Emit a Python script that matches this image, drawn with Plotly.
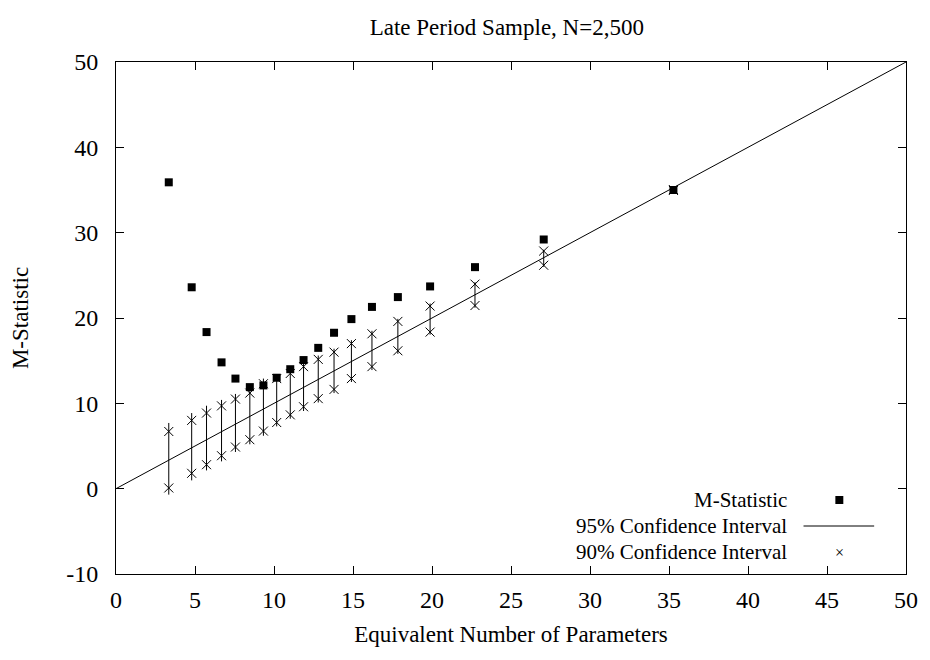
import plotly.graph_objects as go

# Data
enp = [3.34, 4.79, 5.73, 6.68, 7.56, 8.47, 9.33, 10.17, 11.03, 11.87, 12.8, 13.8,
       14.9, 16.2, 17.84, 19.88, 22.72, 27.07, 35.28]
m_stat = [35.9, 23.6, 18.35, 14.8, 12.9, 11.9, 12.1, 13.0, 14.0, 15.07, 16.5, 18.27,
          19.87, 21.3, 22.45, 23.7, 25.96, 29.2, 35.0]
upper90 = [6.7, 8.0, 8.86, 9.7, 10.5, 11.2, 12.3, 12.9, 13.5, 14.3, 15.15, 16.0,
           17.0, 18.15, 19.6, 21.4, 23.97, 27.85, 35.05]
lower90 = [0.08, 1.8, 2.81, 3.86, 4.88, 5.74, 6.75, 7.75, 8.65, 9.6, 10.55, 11.63,
           12.9, 14.3, 16.16, 18.35, 21.46, 26.18, 34.95]
upper95 = [7.7, 8.86, 9.72, 10.4, 11.1, 11.8, 12.9, 13.4, 14.0, 14.8, 15.6, 16.4,
           17.4, 18.5, 19.9, 21.7, 24.2, 28.0, 35.1]
lower95 = [-0.7, 0.97, 2.14, 3.2, 4.3, 5.2, 6.2, 7.3, 8.2, 9.1, 10.1, 11.2,
           12.5, 13.9, 15.8, 18.05, 21.2, 26.0, 34.9]
diag_x = [0, 50]
diag_y = [0, 50]

x_ticks = list(range(0, 51, 5))
y_ticks = list(range(-10, 51, 10))
y_ticktext = [str(v) for v in y_ticks]  # plain hyphen for "-10"

title_text = "Late Period Sample, N=2,500"
x_title = "Equivalent Number of Parameters"
y_title = "M-Statistic"
legend_labels = ["M-Statistic", "95% Confidence Interval", "90% Confidence Interval"]

FONT = "Liberation Serif, Times New Roman, serif"
TXT = 23
TICK = 24
LEG = 21

fig = go.Figure()

# diagonal reference line
fig.add_trace(go.Scatter(x=diag_x, y=diag_y, mode="lines",
                         line=dict(color="black", width=1), showlegend=False,
                         hoverinfo="skip"))

# 95% CI vertical segments
seg_x, seg_y = [], []
for xv, lo, hi in zip(enp, lower95, upper95):
    seg_x += [xv, xv, None]
    seg_y += [lo, hi, None]
fig.add_trace(go.Scatter(x=seg_x, y=seg_y, mode="lines",
                         line=dict(color="black", width=1), showlegend=False))

# 90% CI crosses
fig.add_trace(go.Scatter(x=enp + enp, y=upper90 + lower90, mode="markers",
                         marker=dict(symbol="x-thin-open", size=9, color="black",
                                     line=dict(color="black", width=1)),
                         showlegend=False))

# M-statistic squares
fig.add_trace(go.Scatter(x=enp, y=m_stat, mode="markers",
                         marker=dict(symbol="square", size=8, color="black",
                                     line=dict(width=0)),
                         showlegend=False))

# Manual gnuplot-style legend (text left, key right)
L, T, W, H = 116, 62, 794, 512
def px(xp):
    return (xp - L) / W
def py(yp):
    return 1 - (yp - T) / H

ys = [500, 526, 552]
for lab, yy in zip(legend_labels, ys):
    fig.add_annotation(x=px(792), y=py(yy), xref="paper", yref="paper",
                       text=lab, showarrow=False, xanchor="right", yanchor="middle",
                       font=dict(family=FONT, size=LEG, color="black"))
fig.add_shape(type="rect", xref="paper", yref="paper",
              x0=px(839), x1=px(847), y0=py(504), y1=py(496),
              fillcolor="black", line=dict(width=0))
fig.add_shape(type="line", xref="paper", yref="paper",
              x0=px(807), x1=px(878), y0=py(526), y1=py(526),
              line=dict(color="black", width=1))
fig.add_annotation(x=px(843), y=py(552), xref="paper", yref="paper",
                   text="×", showarrow=False, xanchor="center", yanchor="middle",
                   font=dict(family=FONT, size=16, color="black"))

axis_common = dict(showgrid=False, zeroline=False, showline=True, linecolor="black",
                   linewidth=1, mirror="ticks", ticks="inside", ticklen=8,
                   tickcolor="black", tickwidth=1,
                   tickfont=dict(family=FONT, size=TICK, color="black"))

fig.update_layout(
    width=930, height=660,
    margin=dict(l=L, r=930 - L - W, t=T, b=660 - T - H),
    paper_bgcolor="white", plot_bgcolor="white",
    title=dict(text=title_text, x=0.545, xanchor="center", y=1 - 27 / 660,
               yanchor="middle", font=dict(family=FONT, size=TXT, color="black")),
    xaxis=dict(range=[0, 50], tickvals=x_ticks,
               title=dict(text=x_title, font=dict(family=FONT, size=TXT, color="black"),
                          standoff=14),
               ticklabelstandoff=4, **axis_common),
    yaxis=dict(range=[-10, 50], tickvals=y_ticks, ticktext=y_ticktext,
               title=dict(text=y_title, font=dict(family=FONT, size=TXT, color="black"),
                          standoff=31),
               ticklabelstandoff=12, **axis_common),
    showlegend=False,
)

fig.write_html("out.html")
